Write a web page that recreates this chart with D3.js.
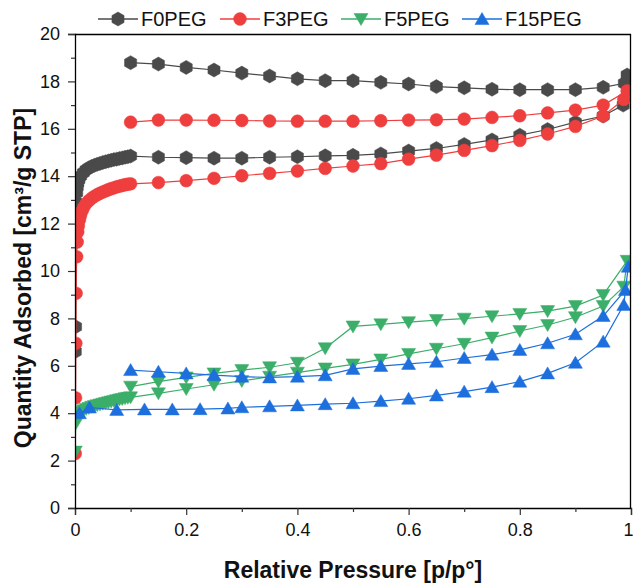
<!DOCTYPE html>
<html>
<head>
<meta charset="utf-8">
<script src="https://cdn.jsdelivr.net/npm/d3@7/dist/d3.min.js"></script>
<style>
  html, body { margin: 0; padding: 0; background: #fff; }
  svg { display: block; font-family: "Liberation Sans", Arial, sans-serif; }
</style>
</head>
<body>
<svg id="chart" width="635" height="583"></svg>
<script>
// N2 isotherms: each series is one path, adsorption branch up to p/p° ≈ 1, then desorption back down.
const seriesNames = ["F0PEG", "F3PEG", "F5PEG", "F15PEG"];

const f0P = [0.0005, 0.001, 0.002, 0.003, 0.004, 0.005, 0.007, 0.01, 0.015, 0.02, 0.025, 0.03, 0.035, 0.04, 0.045, 0.05, 0.055, 0.06, 0.065, 0.07, 0.075, 0.08, 0.085, 0.09, 0.095, 0.1,
  0.15, 0.2, 0.25, 0.3, 0.35, 0.4, 0.45, 0.5, 0.55, 0.6, 0.65, 0.7, 0.75, 0.8, 0.85, 0.9, 0.95, 0.986, 0.993,
  0.988, 0.95, 0.9, 0.85, 0.8, 0.75, 0.7, 0.65, 0.6, 0.55, 0.5, 0.45, 0.4, 0.35, 0.3, 0.25, 0.2, 0.15, 0.1];
const f0Q = [6.6, 7.65, 12.9, 13.3, 13.55, 13.7, 13.85, 14.0, 14.15, 14.27, 14.35, 14.41, 14.46, 14.5, 14.54, 14.58, 14.61, 14.64, 14.67, 14.7, 14.72, 14.75, 14.77, 14.8, 14.82, 14.85,
  14.8, 14.78, 14.76, 14.76, 14.8, 14.82, 14.86, 14.88, 14.94, 15.06, 15.17, 15.34, 15.53, 15.73, 15.97, 16.28, 16.54, 17.0, 18.27,
  17.92, 17.75, 17.65, 17.65, 17.65, 17.67, 17.73, 17.78, 17.89, 17.96, 18.03, 18.03, 18.11, 18.23, 18.35, 18.48, 18.59, 18.73, 18.79];

const f3P = [0.0005, 0.001, 0.0015, 0.002, 0.003, 0.004, 0.005, 0.006, 0.008, 0.01, 0.013, 0.016, 0.02, 0.025, 0.03, 0.035, 0.04, 0.045, 0.05, 0.055, 0.06, 0.065, 0.07, 0.075, 0.08, 0.085, 0.09, 0.095, 0.1,
  0.15, 0.2, 0.25, 0.3, 0.35, 0.4, 0.45, 0.5, 0.55, 0.6, 0.65, 0.7, 0.75, 0.8, 0.85, 0.9, 0.95, 0.987, 0.993,
  0.95, 0.9, 0.85, 0.8, 0.75, 0.7, 0.65, 0.6, 0.55, 0.5, 0.45, 0.4, 0.35, 0.3, 0.25, 0.2, 0.15, 0.1];
const f3Q = [2.3, 4.65, 6.95, 9.06, 10.6, 11.22, 11.65, 11.9, 12.15, 12.35, 12.55, 12.7, 12.85, 12.97, 13.07, 13.15, 13.22, 13.28, 13.33, 13.38, 13.43, 13.47, 13.51, 13.55, 13.58, 13.61, 13.64, 13.66, 13.68,
  13.73, 13.81, 13.91, 14.02, 14.12, 14.22, 14.33, 14.43, 14.53, 14.72, 14.89, 15.09, 15.29, 15.51, 15.78, 16.1, 16.54, 17.24, 17.6,
  17.0, 16.79, 16.67, 16.55, 16.48, 16.41, 16.38, 16.37, 16.34, 16.32, 16.32, 16.32, 16.33, 16.35, 16.36, 16.37, 16.37, 16.28];

const f5P = [0.0005, 0.001, 0.002, 0.004, 0.007, 0.01, 0.015, 0.02, 0.025, 0.03, 0.035, 0.04, 0.045, 0.05, 0.055, 0.06, 0.065, 0.07, 0.075, 0.08, 0.085, 0.09, 0.095, 0.1,
  0.15, 0.2, 0.25, 0.3, 0.35, 0.4, 0.45, 0.5, 0.55, 0.6, 0.65, 0.7, 0.75, 0.8, 0.85, 0.9, 0.95, 0.987, 0.993,
  0.95, 0.9, 0.85, 0.8, 0.75, 0.7, 0.65, 0.6, 0.55, 0.5, 0.45, 0.4, 0.35, 0.3, 0.25, 0.2, 0.15, 0.1];
const f5Q = [2.38, 3.55, 3.75, 3.9, 4.0, 4.05, 4.12, 4.18, 4.22, 4.27, 4.3, 4.34, 4.37, 4.4, 4.43, 4.46, 4.49, 4.52, 4.55, 4.58, 4.6, 4.63, 4.65, 4.67,
  4.84, 5.02, 5.2, 5.36, 5.54, 5.71, 5.89, 6.06, 6.27, 6.5, 6.72, 6.93, 7.19, 7.47, 7.72, 8.05, 8.52, 9.34, 10.43,
  8.99, 8.52, 8.31, 8.19, 8.09, 7.99, 7.93, 7.84, 7.75, 7.66, 6.74, 6.13, 5.94, 5.82, 5.68, 5.51, 5.33, 5.12];

const f15P = [0.008, 0.026, 0.075, 0.125, 0.175, 0.225, 0.275, 0.3, 0.35, 0.4, 0.45, 0.5, 0.55, 0.6, 0.65, 0.7, 0.75, 0.8, 0.85, 0.9, 0.95, 0.987, 0.995,
  0.99, 0.95, 0.9, 0.85, 0.8, 0.75, 0.7, 0.65, 0.6, 0.55, 0.5, 0.45, 0.4, 0.35, 0.3, 0.25, 0.2, 0.15, 0.1];
const f15Q = [4.0, 4.24, 4.14, 4.16, 4.16, 4.17, 4.2, 4.25, 4.29, 4.33, 4.38, 4.42, 4.51, 4.61, 4.75, 4.91, 5.1, 5.33, 5.68, 6.13, 7.02, 8.57, 10.18,
  9.2, 8.1, 7.33, 6.95, 6.67, 6.47, 6.33, 6.17, 6.08, 5.99, 5.87, 5.6, 5.54, 5.51, 5.54, 5.61, 5.68, 5.75, 5.82];

const xMajorTicks = [0, 0.2, 0.4, 0.6, 0.8, 1];
const xMinorTicks = [0.1, 0.3, 0.5, 0.7, 0.9];
const yMajorTicks = [0, 2, 4, 6, 8, 10, 12, 14, 16, 18, 20];
const yMinorTicks = [1, 3, 5, 7, 9, 11, 13, 15, 17, 19];

const xTitle = "Relative Pressure [p/p°]";
const yTitle = "Quantity Adsorbed [cm³/g STP]";

const colors = ["#4a4a4a", "#ef3e3e", "#3bae69", "#1c6fdc"];
const shapes = ["hexagon", "circle", "triangleDown", "triangleUp"];

const seriesData = [[f0P, f0Q], [f3P, f3Q], [f5P, f5Q], [f15P, f15Q]].map(([ps, qs], i) => ({
  name: seriesNames[i],
  color: colors[i],
  shape: shapes[i],
  points: ps.map((p, j) => ({ p, q: qs[j] }))
}));

const svg = d3.select("#chart");
const plotLeft = 75, plotRight = 631, plotTop = 34, plotBottom = 508;

const x = d3.scaleLinear().domain([0, 1]).range([plotLeft, plotRight]);
const y = d3.scaleLinear().domain([0, 20]).range([plotBottom, plotTop]);

function markerPath(shape) {
  if (shape === "hexagon") {
    const r = 7;
    const pts = d3.range(6).map(k => {
      const a = Math.PI / 3 * k - Math.PI / 2;
      return [r * Math.cos(a), r * Math.sin(a)];
    });
    return "M" + pts.map(p => p.join(",")).join("L") + "Z";
  }
  if (shape === "circle") {
    const r = 6.4;
    return `M${-r},0A${r},${r} 0 1,0 ${r},0A${r},${r} 0 1,0 ${-r},0Z`;
  }
  if (shape === "triangleDown") {
    return "M-7,-5.5L7,-5.5L0,6.5Z";
  }
  return "M-7,5.5L7,5.5L0,-6.5Z";
}

// clip region for the plot frame
svg.append("defs").append("clipPath").attr("id", "plotClip")
  .append("rect").attr("x", plotLeft).attr("y", plotTop)
  .attr("width", plotRight - plotLeft).attr("height", plotBottom - plotTop);

const plot = svg.append("g").attr("clip-path", "url(#plotClip)");

const line = d3.line().x(d => x(d.p)).y(d => y(d.q));

seriesData.forEach(s => {
  const g = plot.append("g");
  g.append("path")
    .datum(s.points)
    .attr("d", line)
    .attr("fill", "none")
    .attr("stroke", s.color)
    .attr("stroke-width", 1.2);
  g.selectAll("path.m")
    .data(s.points)
    .join("path")
    .attr("class", "m")
    .attr("d", markerPath(s.shape))
    .attr("transform", d => `translate(${x(d.p)},${y(d.q)})`)
    .attr("fill", s.color)
    .attr("stroke", s.color)
    .attr("stroke-width", 0.5);
});

// axes
const tickFont = 18;
const xAxisG = svg.append("g").attr("transform", `translate(0,${plotBottom})`)
  .call(d3.axisBottom(x).tickValues(xMajorTicks).tickFormat(d3.format("~g")).tickSize(7).tickPadding(8));
svg.append("g").attr("transform", `translate(0,${plotBottom})`)
  .call(d3.axisBottom(x).tickValues(xMinorTicks).tickFormat("").tickSize(4))
  .call(g => g.select(".domain").remove());

svg.append("g").attr("transform", `translate(${plotLeft},0)`)
  .call(d3.axisLeft(y).tickValues(yMajorTicks).tickFormat(d3.format("d")).tickSize(7).tickPadding(8));
svg.append("g").attr("transform", `translate(${plotLeft},0)`)
  .call(d3.axisLeft(y).tickValues(yMinorTicks).tickFormat("").tickSize(4))
  .call(g => g.select(".domain").remove());

svg.selectAll(".tick line").attr("stroke", "#333").attr("stroke-width", 1.2);
svg.selectAll(".domain").attr("stroke", "#000").attr("stroke-width", 1.3);
svg.selectAll(".tick text")
  .attr("font-size", tickFont)
  .attr("font-family", "'Liberation Sans', Arial, sans-serif")
  .attr("fill", "#111");
// keep the last x label inside the page edge
xAxisG.selectAll(".tick text").filter(d => d === 1).attr("dx", -3);

// frame top and right
svg.append("line").attr("x1", plotLeft).attr("x2", plotRight).attr("y1", plotTop + 0.5).attr("y2", plotTop + 0.5)
  .attr("stroke", "#000").attr("stroke-width", 1.3);
svg.append("line").attr("x1", plotRight - 0.5).attr("x2", plotRight - 0.5).attr("y1", plotTop).attr("y2", plotBottom)
  .attr("stroke", "#000").attr("stroke-width", 1.3);

// titles
svg.append("text")
  .attr("x", (plotLeft + plotRight) / 2).attr("y", 578)
  .attr("text-anchor", "middle")
  .attr("font-size", 23).attr("font-weight", "bold").attr("fill", "#111")
  .text(xTitle);
svg.append("text")
  .attr("transform", `translate(31,278) rotate(-90)`)
  .attr("text-anchor", "middle")
  .attr("font-size", 23).attr("font-weight", "bold").attr("fill", "#111")
  .text(yTitle);

// legend
const legendX = [118, 240, 361, 482];
const legendY = 19;
seriesData.forEach((s, i) => {
  const g = svg.append("g").attr("transform", `translate(${legendX[i]},${legendY})`);
  g.append("line").attr("x1", -20).attr("x2", 20).attr("y1", 0).attr("y2", 0)
    .attr("stroke", s.color).attr("stroke-width", 1.3);
  g.append("path").attr("d", markerPath(s.shape)).attr("fill", s.color).attr("stroke", s.color).attr("stroke-width", 0.5);
  g.append("text").attr("x", 23).attr("y", 7).attr("font-size", 20).attr("fill", "#111").text(s.name);
});
</script>
</body>
</html>
